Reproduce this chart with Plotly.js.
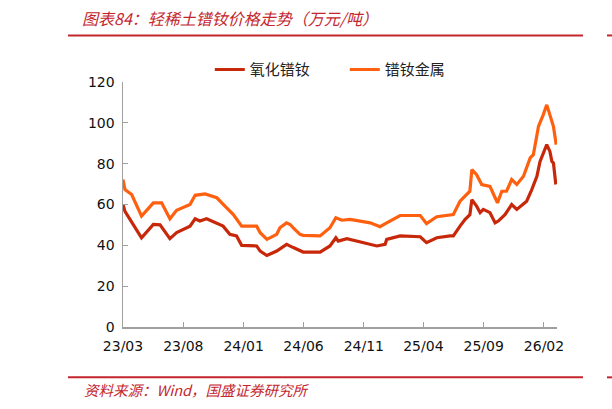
<!DOCTYPE html>
<html>
<head>
<meta charset="utf-8">
<script src="https://cdn.plot.ly/plotly-3.0.1.min.js"></script>
<style>
  html, body { margin: 0; padding: 0; background: #fff; }
  #chart { width: 612px; height: 409px; }
</style>
</head>
<body>
<div id="chart"></div>
<script>
// 氧化镨钕 (万元/吨)
var oxideDates = ['2023-03-01', '2023-03-06', '2023-04-17', '2023-05-17', '2023-06-03', '2023-06-28',
  '2023-07-15', '2023-08-18', '2023-08-31', '2023-09-12', '2023-09-29', '2023-10-25', '2023-11-10',
  '2023-11-27', '2023-12-14', '2023-12-27', '2024-01-17', '2024-02-03', '2024-02-12', '2024-02-29',
  '2024-03-25', '2024-04-19', '2024-05-06', '2024-05-31', '2024-07-13', '2024-08-07', '2024-08-22',
  '2024-08-28', '2024-09-19', '2024-10-31', '2024-12-04', '2024-12-25', '2024-12-29', '2025-02-01',
  '2025-03-24', '2025-04-09', '2025-05-05', '2025-06-08', '2025-06-16', '2025-07-03', '2025-07-16',
  '2025-07-28', '2025-08-02', '2025-08-14', '2025-08-23', '2025-08-31', '2025-09-17', '2025-09-30',
  '2025-10-08', '2025-10-25', '2025-11-11', '2025-11-24', '2025-12-19', '2026-01-01', '2026-01-14',
  '2026-01-22', '2026-02-08', '2026-02-16', '2026-02-21', '2026-02-25', '2026-03-03'];
var oxideVals = [60, 56.7, 43.7, 50.2, 50, 43.3,
  46.2, 49.4, 53, 51.9, 53, 51, 49.4,
  45.4, 44.6, 40, 40, 39.7, 37.2, 35,
  37.2, 40.5, 38.9, 36.7, 36.7, 39.7, 43.7,
  42.1, 43.3, 41.3, 39.7, 40.5, 42.9, 44.6,
  44.2, 41.3, 43.7, 44.6, 44.6, 49.4, 52.7,
  55, 62.4, 59.2, 56, 57.6, 56, 51,
  51.9, 55, 60, 57.6, 61.6, 67.3, 73.8,
  81.1, 89.3, 86, 81.1, 80.3, 69.8];

// 镨钕金属 (万元/吨)
var metalDates = ['2023-03-01', '2023-03-06', '2023-03-23', '2023-04-05', '2023-04-17', '2023-05-17',
  '2023-06-07', '2023-06-28', '2023-07-15', '2023-08-18', '2023-08-31', '2023-09-25', '2023-10-25',
  '2023-11-19', '2023-12-06', '2023-12-27', '2024-02-03', '2024-02-12', '2024-02-29', '2024-03-25',
  '2024-04-02', '2024-04-19', '2024-04-28', '2024-05-06', '2024-05-23', '2024-05-31', '2024-07-13',
  '2024-08-07', '2024-08-22', '2024-09-06', '2024-09-27', '2024-11-17', '2024-12-12', '2024-12-29',
  '2025-02-01', '2025-03-24', '2025-04-09', '2025-05-05', '2025-06-08', '2025-06-16', '2025-07-03',
  '2025-07-20', '2025-07-28', '2025-08-02', '2025-08-14', '2025-08-27', '2025-09-17', '2025-09-30',
  '2025-10-06', '2025-10-17', '2025-10-29', '2025-11-11', '2025-11-24', '2025-12-11', '2025-12-28',
  '2026-01-05', '2026-01-18', '2026-01-30', '2026-02-08', '2026-02-16', '2026-02-25', '2026-03-04'];
var metalVals = [72.2, 67.3, 64.9, 59.2, 54.3, 60.8,
  60.8, 53, 57.2, 60, 64.5, 65.2, 63.3,
  58.4, 55.1, 49.4, 49.4, 46.2, 42.9, 45.4,
  48.6, 51, 50.2, 48.6, 45.4, 44.9, 44.6,
  48.6, 53.5, 52.3, 52.7, 51, 49.1, 51,
  54.6, 54.6, 50.7, 54, 55.1, 55.1, 61.6,
  64.9, 66.5, 77.1, 74.6, 69.8, 68.9, 63.3,
  60.8, 66.5, 66.5, 72.2, 69.8, 73.8, 82.8,
  84.4, 98.2, 103.9, 108.8, 103.9, 98.2, 89.3];

var seriesNames = ['氧化镨钕', '镨钕金属'];
var seriesColors = ['#C8280A', '#FF600F'];

var red = '#C4262E';
var axisGray = '#A0A0A0';

var traces = [
  {x: oxideDates, y: oxideVals, name: seriesNames[0], type: 'scatter', mode: 'lines',
   line: {color: seriesColors[0], width: 3.2}},
  {x: metalDates, y: metalVals, name: seriesNames[1], type: 'scatter', mode: 'lines',
   line: {color: seriesColors[1], width: 3.2}}
];

// plot area is 123..557 px wide, 82..327.5 px high; paper coords below derive from that
var layout = {
  width: 612,
  height: 409,
  margin: {l: 123, r: 55, t: 82, b: 81.5},
  paper_bgcolor: '#fff',
  plot_bgcolor: '#fff',
  font: {family: 'DejaVu Sans, sans-serif', size: 14, color: '#111'},
  showlegend: true,
  legend: {
    orientation: 'h',
    x: 0.2, xanchor: 'left',
    y: 1.05, yanchor: 'middle',
    font: {family: 'Noto Sans CJK SC, sans-serif', size: 15, color: '#222'},
    entrywidth: 90,
    entrywidthmode: 'pixels',
    tracegroupgap: 0,
    bgcolor: 'rgba(0,0,0,0)'
  },
  xaxis: {
    type: 'date',
    range: ['2023-03-01', '2026-03-06'],
    tick0: '2023-03-01',
    dtick: 'M5',
    tickformat: '%y/%m',
    ticks: 'inside',
    ticklen: 5,
    tickcolor: axisGray,
    showline: true,
    linecolor: axisGray,
    linewidth: 1.5,
    showgrid: false,
    zeroline: false,
    ticklabelstandoff: 6
  },
  yaxis: {
    range: [0, 120],
    dtick: 20,
    ticks: 'inside',
    ticklen: 5,
    tickcolor: axisGray,
    showline: true,
    linecolor: axisGray,
    linewidth: 1.5,
    showgrid: false,
    zeroline: false,
    ticklabelstandoff: 4
  },
  shapes: [
    {type: 'line', xref: 'paper', yref: 'paper', x0: -0.1267, x1: 1.0599, y0: 1.19, y1: 1.19,
     line: {color: red, width: 2}},
    {type: 'line', xref: 'paper', yref: 'paper', x0: 1.1152, x1: 1.13, y0: 1.19, y1: 1.19,
     line: {color: red, width: 2}},
    {type: 'line', xref: 'paper', yref: 'paper', x0: -0.1267, x1: 1.0599, y0: -0.2055, y1: -0.2055,
     line: {color: red, width: 2}},
    {type: 'line', xref: 'paper', yref: 'paper', x0: 1.1152, x1: 1.13, y0: -0.2055, y1: -0.2055,
     line: {color: red, width: 2}}
  ],
  annotations: [
    {text: '图表84：轻稀土镨钕价格走势（万元/吨）', xref: 'paper', yref: 'paper',
     x: -0.099, y: 1.263, xanchor: 'left', yanchor: 'middle', showarrow: false,
     font: {family: 'Noto Sans CJK SC, sans-serif', size: 16, color: red, style: 'italic'}},
    {text: '资料来源：Wind，国盛证券研究所', xref: 'paper', yref: 'paper',
     x: -0.0945, y: -0.254, xanchor: 'left', yanchor: 'middle', showarrow: false,
     font: {family: 'Noto Sans CJK SC, sans-serif', size: 14.5, color: red, style: 'italic'}}
  ]
};

Plotly.newPlot('chart', traces, layout, {displayModeBar: false, staticPlot: true});
</script>
</body>
</html>
